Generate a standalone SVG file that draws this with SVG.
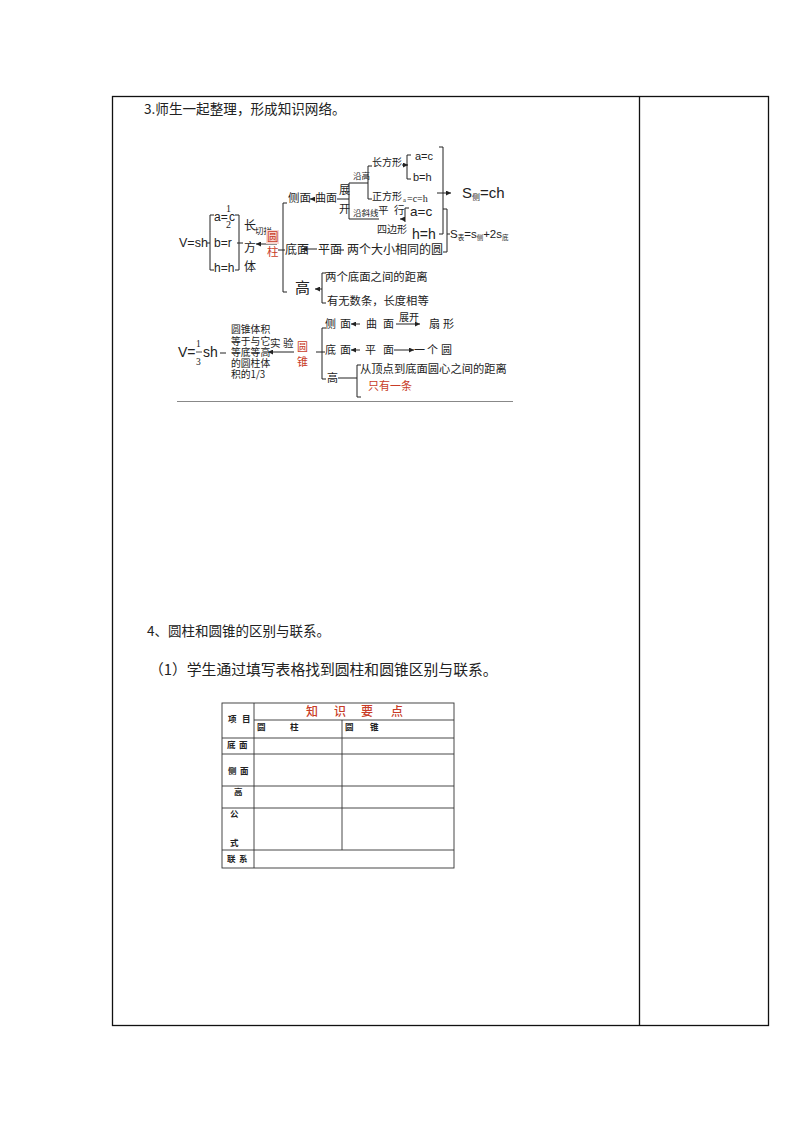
<svg xmlns="http://www.w3.org/2000/svg" width="794" height="1123" viewBox="0 0 794 1123">
<style>
.cjk{font-family:"Noto Sans CJK SC","Noto Sans",sans-serif;fill:#222}
.lat{font-family:"Liberation Sans",Arial,sans-serif;fill:#222}
.ser{font-family:"Liberation Serif","Noto Sans CJK SC",serif;fill:#222}
.red{fill:#c83c28}
.ln{stroke:#222;stroke-width:1;fill:none}
.bd{stroke:#111;stroke-width:1.3;fill:none}
.tb{stroke:#333;stroke-width:0.9;fill:none}
.tt{font-family:"Noto Sans CJK SC",sans-serif;font-size:8.5px;font-weight:700;fill:#222}
</style>
<defs>
<marker id="ah" viewBox="0 0 6 6" refX="6" refY="3" markerWidth="5" markerHeight="5" orient="auto" markerUnits="userSpaceOnUse"><path d="M0,0 L6,3 L0,6z" fill="#222"/></marker>
</defs>
<rect width="794" height="1123" fill="#fff"/>

<!-- outer page table -->
<g id="frame">
<rect class="bd" x="112.5" y="96.5" width="656" height="929"/>
<line class="bd" x1="639.5" y1="96.5" x2="639.5" y2="1025.5"/>
</g>

<g id="headings">
<text class="cjk" x="144" y="114" font-size="13.6">3.师生一起整理，形成知识网络。</text>
<text class="cjk" x="147" y="636" font-size="13.5">4、圆柱和圆锥的区别与联系。</text>
<text class="cjk" x="149" y="675" font-size="14.8">（1）学生通过填写表格找到圆柱和圆锥区别与联系。</text>
</g>

<!-- connectors of diagram 1 and 2 -->
<g id="connectors">
<!-- volume brackets -->
<line class="ln" x1="207" y1="243" x2="210" y2="243"/>
<path class="ln" d="M214,215 H210 V270 H214"/>
<path class="ln" d="M235,215 H239 V270 H235"/>
<line class="ln" x1="237" y1="243" x2="243" y2="243"/>
<line class="ln" x1="277" y1="244" x2="256" y2="244" marker-end="url(#ah)"/>
<line class="ln" x1="278" y1="250" x2="283" y2="250"/>
<!-- cylinder big bracket -->
<path class="ln" d="M287,203 H283 V292 H287"/>
<line class="ln" x1="283" y1="250" x2="285" y2="250"/>
<line class="ln" x1="315" y1="199" x2="310" y2="199" marker-end="url(#ah)"/>
<!-- unfold -->
<line class="ln" x1="337" y1="199" x2="349" y2="199"/>
<line class="ln" x1="349" y1="183" x2="349" y2="219"/>
<line class="ln" x1="349" y1="183" x2="368" y2="183"/>
<path class="ln" d="M372,166 H368 V199 H372"/>
<line class="ln" x1="349" y1="219" x2="379" y2="219"/>
<line class="ln" x1="402" y1="165" x2="408" y2="165" marker-end="url(#ah)"/>
<path class="ln" d="M411,155 H407 V179 H411"/>
<path class="ln" d="M409,208 H405 V222"/>
<line class="ln" x1="405" y1="219" x2="400" y2="219" marker-end="url(#ah)"/>
<!-- S side bracket -->
<path class="ln" d="M439,147 H443 V234 H439"/>
<line class="ln" x1="437" y1="193" x2="451" y2="193" marker-end="url(#ah)"/>
<!-- S total bracket -->
<path class="ln" d="M443,209 H447 V252 H443"/>
<line class="ln" x1="447" y1="234" x2="450" y2="234"/>
<!-- bottom row -->
<line class="ln" x1="317" y1="249" x2="302" y2="249" marker-end="url(#ah)"/>
<line class="ln" x1="337" y1="250" x2="344" y2="250"/>
<line class="ln" x1="322" y1="289" x2="315" y2="289" marker-end="url(#ah)"/>
<path class="ln" d="M326,273 H322 V303 H326"/>

<!-- cone diagram -->
<line class="ln" x1="220" y1="353" x2="226" y2="353"/>
<line class="ln" x1="294" y1="352" x2="268" y2="352" marker-end="url(#ah)"/>
<line class="ln" x1="316" y1="352" x2="322" y2="352"/>
<path class="ln" d="M326,328 H322 V379 H326"/>
<line class="ln" x1="322" y1="352" x2="325" y2="352"/>
<line class="ln" x1="360" y1="324" x2="351" y2="324" marker-end="url(#ah)"/>
<line class="ln" x1="396" y1="324" x2="420" y2="324" marker-end="url(#ah)"/>
<line class="ln" x1="360" y1="350" x2="351" y2="350" marker-end="url(#ah)"/>
<line class="ln" x1="394" y1="350" x2="414" y2="350" marker-end="url(#ah)"/>
<line class="ln" x1="338" y1="378" x2="357" y2="378"/>
<path class="ln" d="M361,365 H357 V397 H361"/>
<line x1="177" y1="401.5" x2="513" y2="401.5" stroke="#888" stroke-width="1"/>
</g>

<g id="cylinder-volume">
<text class="lat" x="179" y="247" font-size="12.5">V=sh</text>
<text class="lat" x="214" y="221" font-size="12">a=</text>
<text class="lat" x="229" y="221" font-size="12">c</text>
<text class="ser" x="226" y="212" font-size="10">1</text>
<text class="ser" x="226" y="228" font-size="10">2</text>
<text class="lat" x="214" y="247" font-size="12">b=r</text>
<text class="lat" x="214" y="272" font-size="12">h=h</text>
<text class="cjk" x="244" y="230" font-size="12">长</text>
<text class="cjk" x="255" y="234" font-size="8.5">切拼</text>
<rect x="266" y="230" width="13" height="14" fill="#f7d6d2"/>
<text class="cjk red" x="267" y="241" font-size="11.5">圆</text>
<text class="cjk red" x="267" y="256" font-size="11.5">柱</text>
<text class="cjk" x="244" y="252" font-size="12">方</text>
<text class="cjk" x="244" y="271" font-size="12">体</text>
</g>

<g id="cylinder-side">
<text class="cjk" x="288" y="202" font-size="11.5">侧面</text>
<text class="cjk" x="315" y="202" font-size="11">曲面</text>
<text class="cjk" x="339" y="194" font-size="11">展</text>
<text class="cjk" x="339" y="213" font-size="11">开</text>
<text class="cjk" x="353" y="179" font-size="8.5">沿高</text>
<text class="cjk" x="353" y="216" font-size="8.5">沿斜线</text>
<text class="cjk" x="372" y="166" font-size="10">长方形</text>
<text class="lat" x="415" y="160" font-size="11" fill="#333">a=c</text>
<text class="lat" x="413" y="181" font-size="11" fill="#333">b=h</text>
<text class="cjk" x="372" y="200" font-size="10">正方形</text>
<text class="ser" x="403" y="202" font-size="6.5">a</text>
<text class="ser" x="407" y="202" font-size="10">=c=h</text>
<text class="cjk" x="378" y="214" font-size="10.5">平</text>
<text class="cjk" x="394" y="214" font-size="10.5">行</text>
<text class="lat" x="410" y="216" font-size="13.5">a=c</text>
<text class="cjk" x="377" y="233" font-size="10">四边形</text>
<text class="lat" x="412" y="239" font-size="14">h=h</text>
<text class="lat" x="462" y="198" font-size="15">S<tspan font-size="8" class="cjk" dy="2">侧</tspan><tspan dy="-2">=ch</tspan></text>
<text class="lat" x="450" y="238" font-size="11.5">S<tspan font-size="6.5" class="cjk" dy="2">表</tspan><tspan dy="-2">=s</tspan><tspan font-size="6.5" class="cjk" dy="2">侧</tspan><tspan dy="-2">+2s</tspan><tspan font-size="6.5" class="cjk" dy="2">底</tspan></text>
</g>

<g id="cylinder-base">
<text class="cjk" x="285" y="254" font-size="12">底面</text>
<text class="cjk" x="318" y="254" font-size="12">平面</text>
<text class="cjk" x="347" y="254" font-size="12">两个大小相同的圆</text>
</g>

<g id="cylinder-height">
<text class="cjk" x="295" y="293" font-size="15">高</text>
<text class="cjk" x="325" y="281" font-size="11.4">两个底面之间的距离</text>
<text class="cjk" x="327" y="305" font-size="11.3">有无数条，长度相等</text>
</g>

<g id="cone-volume">
<text class="lat" x="178" y="357" font-size="14">V=</text>
<text class="ser" x="196" y="347" font-size="9.5">1</text>
<line x1="196" y1="352" x2="202" y2="352" stroke="#222" stroke-width="0.8"/>
<text class="ser" x="196" y="365" font-size="9.5">3</text>
<text class="lat" x="203" y="357" font-size="14">sh</text>
<text class="cjk" x="231" y="333" font-size="9.8">圆锥体积</text>
<text class="cjk" x="231" y="345" font-size="9.8">等于与它</text>
<text class="cjk" x="270" y="347" font-size="10.5">实</text>
<text class="cjk" x="283" y="347" font-size="10.5">验</text>
<text class="cjk" x="231" y="356" font-size="9.8">等底等高</text>
<text class="cjk" x="231" y="367" font-size="9.8">的圆柱体</text>
<text class="cjk" x="231" y="378" font-size="9.8">积的1/3</text>
<text class="cjk red" x="297" y="351" font-size="11">圆</text>
<text class="cjk red" x="297" y="366" font-size="11">锥</text>
</g>

<g id="cone-side">
<text class="cjk" x="325" y="328" font-size="11">侧</text>
<text class="cjk" x="340" y="328" font-size="11">面</text>
<text class="cjk" x="366" y="328" font-size="11">曲</text>
<text class="cjk" x="383" y="328" font-size="11">面</text>
<text class="cjk" x="399" y="321" font-size="10">展开</text>
<text class="cjk" x="429" y="328" font-size="11">扇</text>
<text class="cjk" x="443" y="328" font-size="11">形</text>
</g>

<g id="cone-base">
<text class="cjk" x="325" y="354" font-size="11">底</text>
<text class="cjk" x="340" y="354" font-size="11">面</text>
<text class="cjk" x="365" y="354" font-size="11">平</text>
<text class="cjk" x="383" y="354" font-size="11">面</text>
<text class="cjk" x="414" y="354" font-size="11">一</text>
<text class="cjk" x="427" y="354" font-size="11">个</text>
<text class="cjk" x="441" y="354" font-size="11">圆</text>
</g>

<g id="cone-height">
<text class="cjk" x="327" y="382" font-size="11">高</text>
<text class="cjk" x="360" y="373" font-size="11.3">从顶点到底面圆心之间的距离</text>
<text class="cjk red" x="368" y="390" font-size="11">只有一条</text>
</g>

<g id="compare-table">
<rect class="tb" x="222" y="703" width="232" height="165"/>
<line class="tb" x1="254" y1="703" x2="254" y2="868"/>
<line class="tb" x1="254" y1="720" x2="454" y2="720"/>
<line class="tb" x1="222" y1="738" x2="454" y2="738"/>
<line class="tb" x1="342" y1="720" x2="342" y2="850"/>
<line class="tb" x1="222" y1="754" x2="454" y2="754"/>
<line class="tb" x1="222" y1="786" x2="454" y2="786"/>
<line class="tb" x1="222" y1="808" x2="454" y2="808"/>
<line class="tb" x1="222" y1="850" x2="454" y2="850"/>
<text class="tt" x="228" y="722">项</text>
<text class="tt" x="242" y="722">目</text>
<text class="cjk red" x="306" y="716" font-size="12" font-weight="500">知</text>
<text class="cjk red" x="334" y="716" font-size="12" font-weight="500">识</text>
<text class="cjk red" x="361" y="716" font-size="12" font-weight="500">要</text>
<text class="cjk red" x="391" y="716" font-size="12" font-weight="500">点</text>
<text class="tt" x="257" y="730">圆</text>
<text class="tt" x="290" y="730">柱</text>
<text class="tt" x="345" y="730">圆</text>
<text class="tt" x="370" y="730">锥</text>
<text class="tt" x="227" y="748">底</text>
<text class="tt" x="239" y="748">面</text>
<text class="tt" x="228" y="774">侧</text>
<text class="tt" x="240" y="774">面</text>
<text class="tt" x="234" y="795">高</text>
<text class="tt" x="230" y="817">公</text>
<text class="tt" x="230" y="846">式</text>
<text class="tt" x="227" y="862">联</text>
<text class="tt" x="239" y="862">系</text>
</g>
</svg>
